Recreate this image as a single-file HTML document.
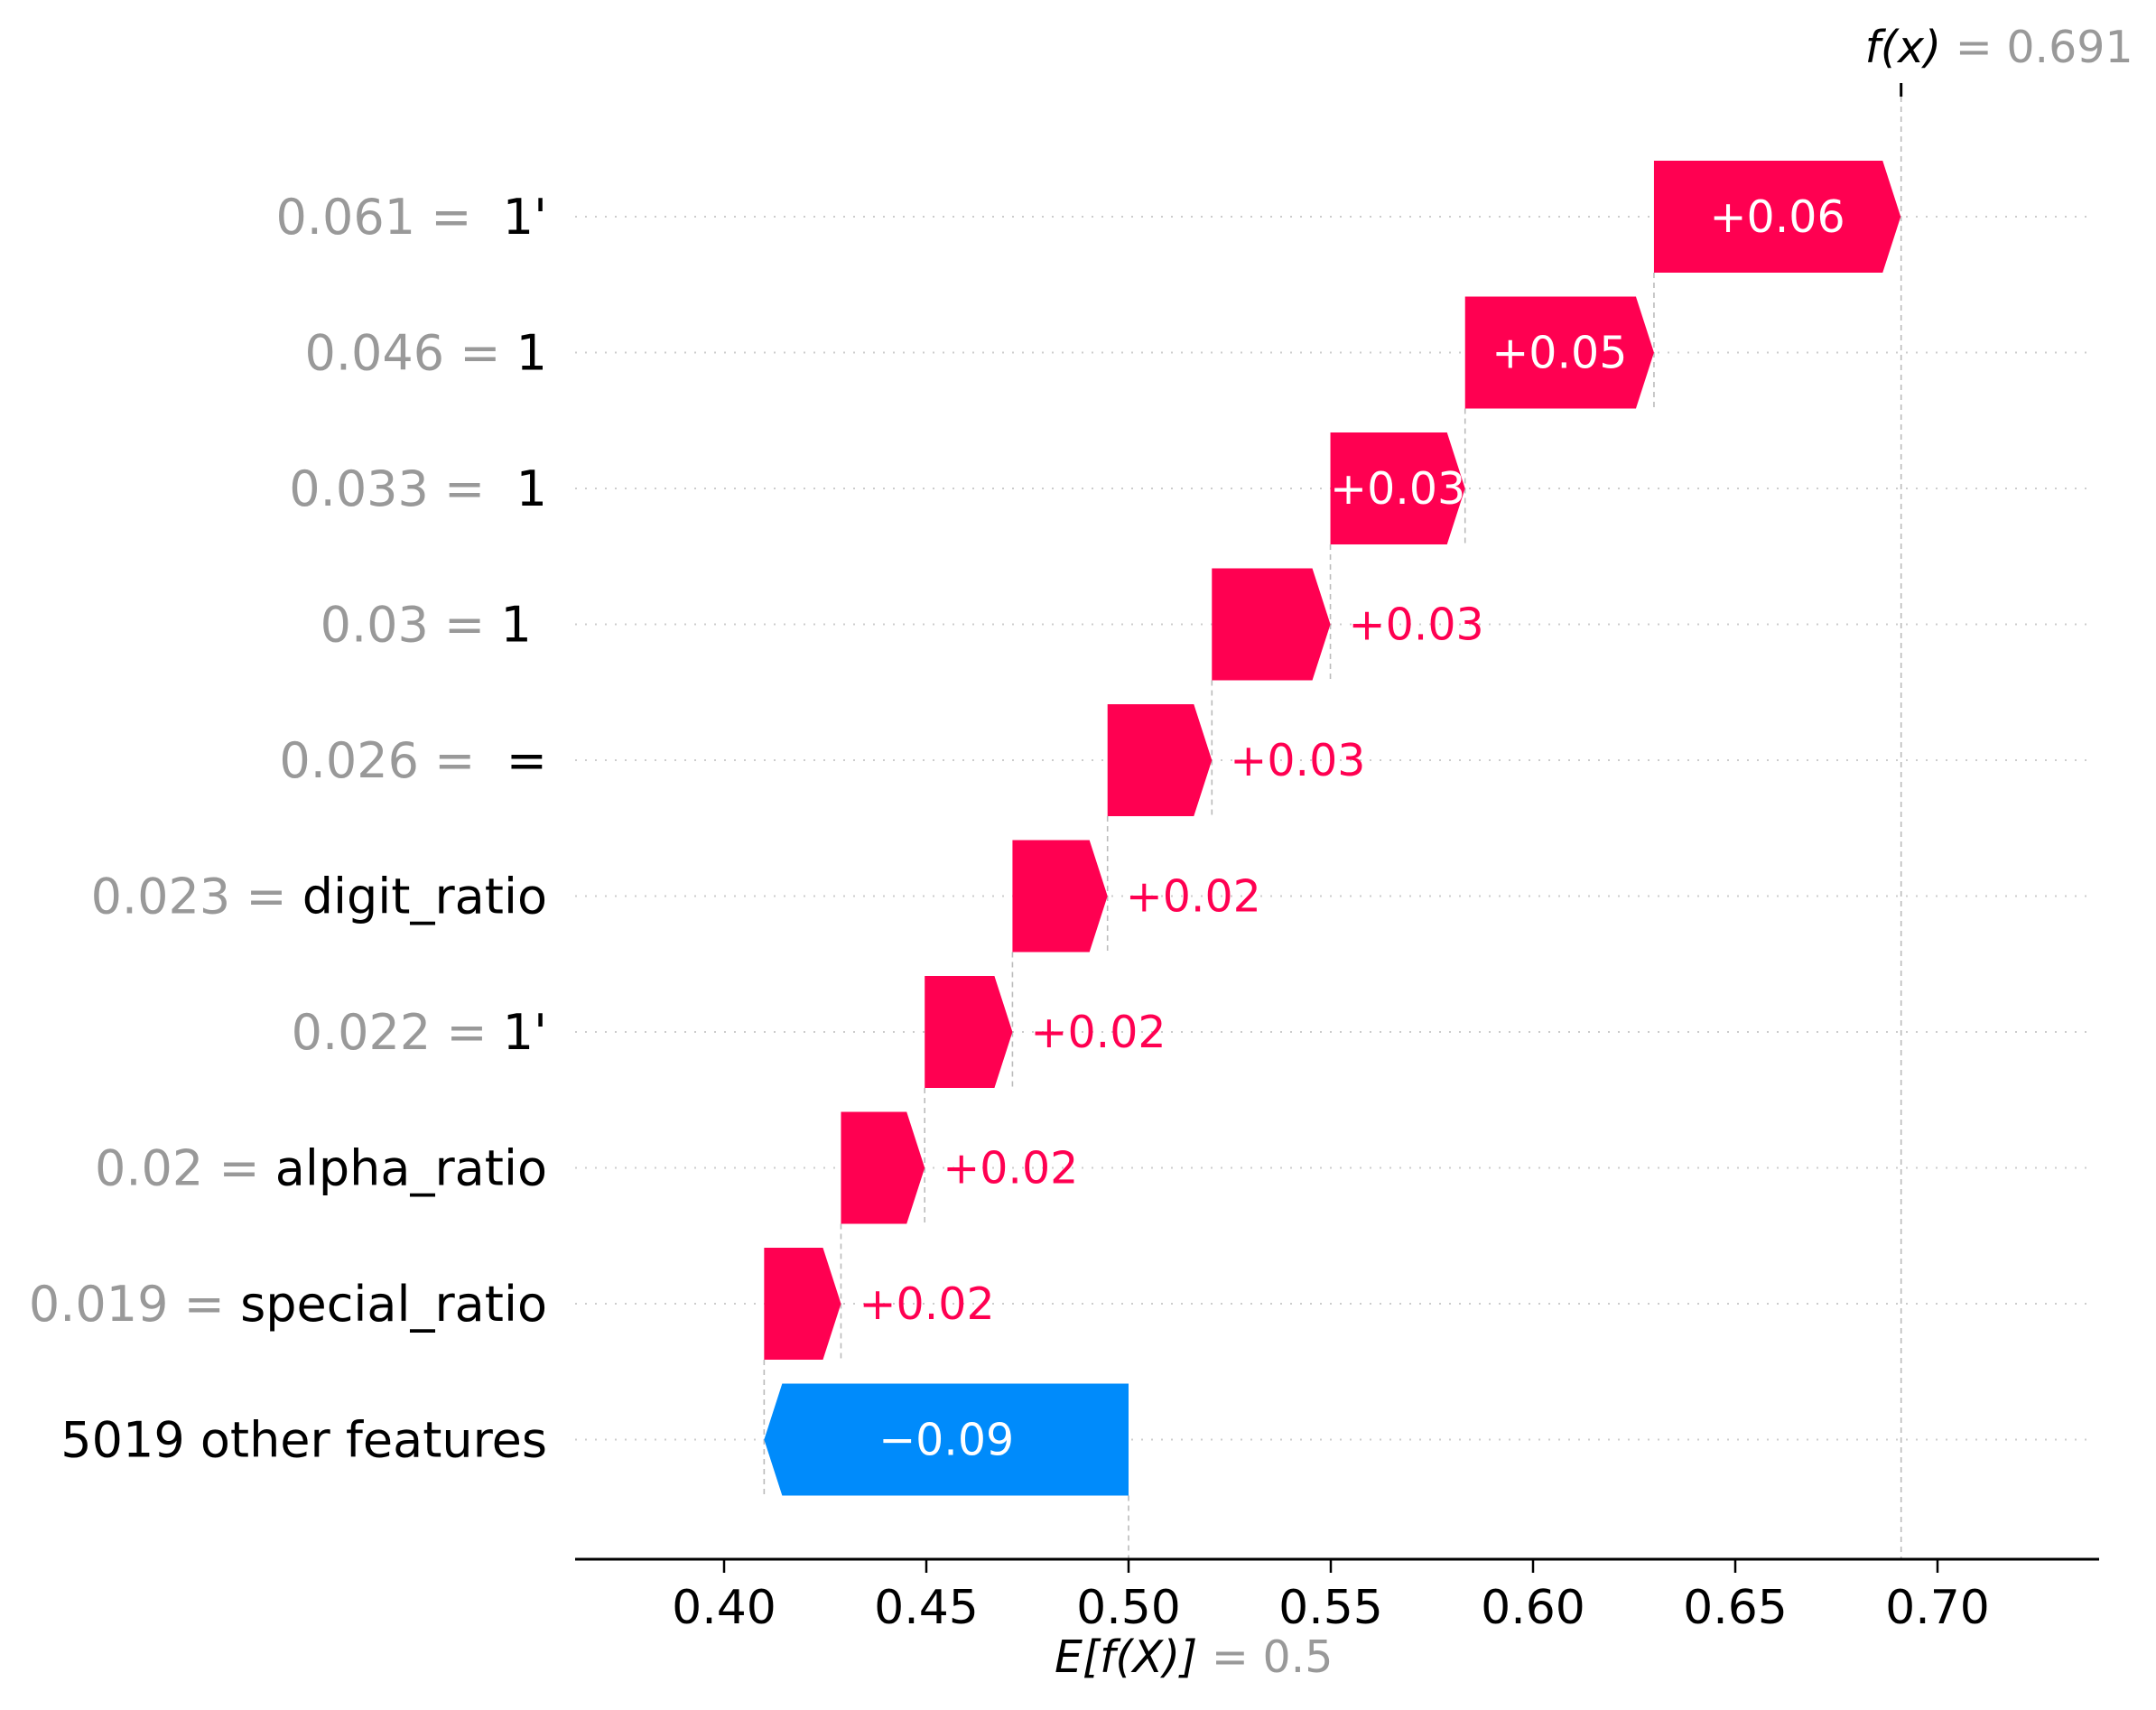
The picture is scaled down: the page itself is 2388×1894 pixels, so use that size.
<!DOCTYPE html>
<html><head><meta charset="utf-8"><style>
html,body{margin:0;padding:0;background:#fff;}
svg{display:block;font-family:"DejaVu Sans","Liberation Sans",sans-serif;}
</style></head><body>
<svg id="chart" xmlns="http://www.w3.org/2000/svg" width="2388" height="1894" viewBox="0 0 2388 1894"></svg>
<script>
const featureValues = ["0.061 = ", "0.046 = ", "0.033 = ", "0.03 = ", "0.026 = ", "0.023 = ", "0.022 = ", "0.02 = ", "0.019 = ", ""];
const featureNames = ["\u00a01'", "1", "\u00a01", "1\u00a0", "\u00a0=", "digit_ratio", "1'", "alpha_ratio", "special_ratio", "5019 other features"];
const shapValues = [0.061, 0.0467, 0.0333, 0.0293, 0.0258, 0.0235, 0.0217, 0.0207, 0.019, -0.0901];
const valueLabels = ["+0.06", "+0.05", "+0.03", "+0.03", "+0.03", "+0.02", "+0.02", "+0.02", "+0.02", "\u22120.09"];
const tickValues = [0.40, 0.45, 0.50, 0.55, 0.60, 0.65, 0.70];
const tickLabels = ["0.40", "0.45", "0.50", "0.55", "0.60", "0.65", "0.70"];
const baseValue = 0.5;
const fxValue = 0.691;

const NS = "http://www.w3.org/2000/svg";
const svg = document.getElementById("chart");
const x = v => 802 + (v - 0.4) * 4480;
const y = i => 240 + i * 150.5;
const BH = 124, HEAD = 20, AXY = 1727;
const PINK = "#ff0051", BLUE = "#008bfb", GRAY = "#999999";
function mk(tag, attrs, parent) {
  const e = document.createElementNS(NS, tag);
  for (const k in attrs) e.setAttribute(k, attrs[k]);
  (parent || svg).appendChild(e);
  return e;
}
const n = shapValues.length;
const starts = [], ends = [];
let cur = baseValue;
for (let i = n - 1; i >= 0; i--) { starts[i] = cur; cur += shapValues[i]; ends[i] = cur; }

for (let i = 0; i < n; i++) {
  const g = mk("line", {x1: 637, x2: 2318, y1: y(i), y2: y(i), stroke: "#cccccc", "stroke-width": 2, "stroke-dasharray": "2,9"});
  
  
}
for (let i = 0; i < n - 1; i++) {
  const c = mk("line", {x1: x(starts[i]), x2: x(starts[i]), y1: y(i) + BH / 2, y2: y(i + 1) + BH / 2, stroke: "#bbbbbb", "stroke-width": 1.6, "stroke-dasharray": "6,5"});
  
  
}
const bl = mk("line", {x1: x(baseValue), x2: x(baseValue), y1: y(n - 1) + BH / 2, y2: AXY, stroke: "#bbbbbb", "stroke-width": 1.6, "stroke-dasharray": "6,5"});


const fl = mk("line", {x1: x(fxValue), x2: x(fxValue), y1: 107, y2: AXY, stroke: "#bbbbbb", "stroke-width": 1.6, "stroke-dasharray": "6,5"});


const ft = mk("line", {x1: x(fxValue), x2: x(fxValue), y1: 92, y2: 107, stroke: "#000", "stroke-width": 3});



for (let i = 0; i < n; i++) {
  const a = x(starts[i]), b = x(ends[i]);
  const t = y(i) - BH / 2, bt = y(i) + BH / 2;
  const w = Math.abs(b - a);
  const h = Math.min(HEAD, w);
  let pts;
  if (b > a) pts = `${a},${t} ${b - h},${t} ${b},${y(i)} ${b - h},${bt} ${a},${bt}`;
  else pts = `${a},${t} ${b + h},${t} ${b},${y(i)} ${b + h},${bt} ${a},${bt}`;
  const p = mk("polygon", {points: pts, fill: shapValues[i] > 0 ? PINK : BLUE});
  
  
  const lab = valueLabels[i];
  const estW = lab.length * 29;
  let tx, anchor, col;
  if (w > estW) { tx = (a + b) / 2; anchor = "middle"; col = "#fff"; }
  else { tx = b + 20; anchor = "start"; col = shapValues[i] > 0 ? PINK : BLUE; }
  const vt = mk("text", {x: tx, y: y(i) + 17, "text-anchor": anchor, fill: col, "font-size": 49});
  vt.textContent = lab;
  
  
  const yl = mk("text", {x: 606, y: y(i) + 19, "text-anchor": "end", "font-size": 54, style: "white-space:pre"});
  
  
  if (featureValues[i]) { const s1 = mk("tspan", {fill: GRAY}, yl); s1.textContent = featureValues[i]; }
  const s2 = mk("tspan", {fill: "#000"}, yl); s2.textContent = featureNames[i];
}

const ax = mk("line", {x1: 637, x2: 2325, y1: AXY, y2: AXY, stroke: "#000", "stroke-width": 3});


tickValues.forEach((v, k) => {
  const tk = mk("line", {x1: x(v), x2: x(v), y1: AXY, y2: AXY + 15, stroke: "#000", "stroke-width": 2.5});
  
  
  const tl = mk("text", {x: x(v), y: AXY + 71, "text-anchor": "middle", "font-size": 52, fill: "#000"});
  tl.textContent = tickLabels[k];
  
  
});
const el = mk("text", {x: x(baseValue) - 82, y: 1852, "font-size": 49, style: "white-space:pre"});


const e1 = mk("tspan", {fill: "#000", "font-style": "italic"}, el); e1.textContent = "E[f(X)]";
const e2 = mk("tspan", {fill: GRAY}, el); e2.textContent = " = " + baseValue;
const fxl = mk("text", {x: x(fxValue) - 40, y: 69, "font-size": 49, style: "white-space:pre"});


const f1 = mk("tspan", {fill: "#000", "font-style": "italic"}, fxl); f1.textContent = "f(x)";
const f2 = mk("tspan", {fill: GRAY}, fxl); f2.textContent = " = " + fxValue;
</script>
</body></html>
